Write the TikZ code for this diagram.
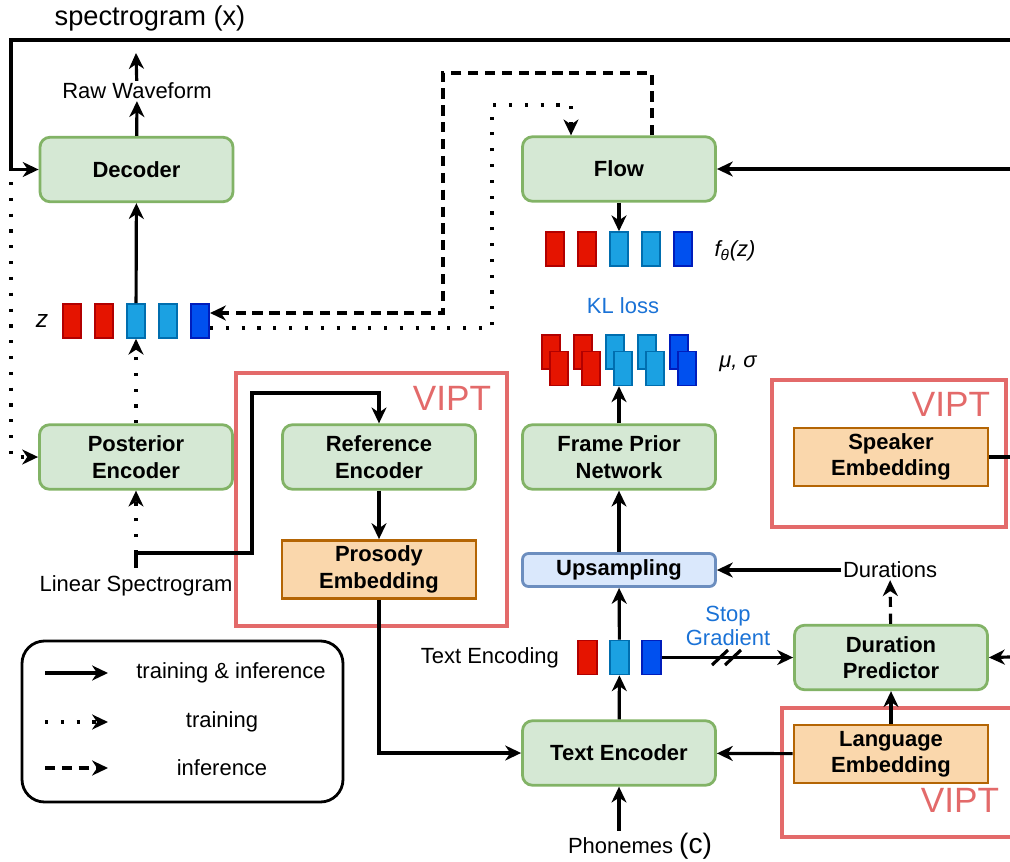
\documentclass[tikz,border=0pt]{standalone}
\usepackage{fontspec}
\setmainfont{Liberation Sans}
\usetikzlibrary{arrows.meta,calc}
\definecolor{boxgreen}{HTML}{82B366}
\definecolor{fillgreen}{HTML}{D5E8D4}
\definecolor{boxorange}{HTML}{B46504}
\definecolor{fillorange}{HTML}{FAD7AC}
\definecolor{boxblue}{HTML}{6C8EBF}
\definecolor{fillblue}{HTML}{DAE8FC}
\definecolor{vecred}{HTML}{E51400}
\definecolor{vecredd}{HTML}{B20000}
\definecolor{veccyan}{HTML}{1BA1E2}
\definecolor{veccyand}{HTML}{006EAF}
\definecolor{vecblue}{HTML}{0050EF}
\definecolor{vecblued}{HTML}{001DBC}
\definecolor{viptred}{HTML}{E36A6A}
\definecolor{txtblue}{HTML}{1A72D6}
\newcommand{\boxfont}{\fontsize{12.5}{15}\selectfont\bfseries}
\newcommand{\labfont}{\fontsize{12.5}{14}\selectfont}
\newcommand{\viptfont}{\fontsize{20}{20}\selectfont}
\tikzset{
  gbox/.style   ={draw=boxgreen,fill=fillgreen,line width=1.6pt,rounded corners=2mm,
                  minimum width=38.6mm,minimum height=12.9mm,align=center,font=\boxfont,inner sep=1pt},
  obox/.style   ={draw=boxorange,fill=fillorange,line width=1.6pt,
                  minimum width=38.8mm,minimum height=11.6mm,align=center,font=\boxfont,inner sep=1pt},
  ubox/.style   ={draw=boxblue,fill=fillblue,line width=1.6pt,rounded corners=1.2mm,
                  minimum width=38.6mm,minimum height=6.6mm,font=\boxfont,inner sep=1pt},
  vcell/.style  ={line width=0.9pt,minimum width=3.7mm,minimum height=6.8mm,inner sep=0pt},
  vred/.style   ={vcell,fill=vecred,draw=vecredd},
  vcyan/.style  ={vcell,fill=veccyan,draw=veccyand},
  vblue/.style  ={vcell,fill=vecblue,draw=vecblued},
  lab/.style    ={font=\labfont,inner sep=1pt},
  bluelab/.style={lab,text=txtblue,align=center},
  viptlab/.style={font=\viptfont,text=viptred,inner sep=0pt},
  vipt/.style   ={draw=viptred,line width=2.3pt},
  fline/.style  ={line width=1.8pt},
  arr/.style    ={fline,-{Stealth[length=9pt,width=8.5pt,inset=2.8pt]}},
  trarr/.style  ={arr,dash pattern=on 1.8pt off 7.2pt},
  infarr/.style ={arr,dash pattern=on 5.8pt off 3.8pt},
  legbox/.style ={draw,line width=1.6pt,rounded corners=4.5mm},
}

\begin{document}
\begin{tikzpicture}[x=0.2mm,y=-0.2mm]
  \useasboundingbox (0,0) rectangle (1010,861);
  % VIPT frames
  \draw[vipt] (236,373) rectangle (507,626);
  \draw[vipt] (772,380) rectangle (1006,527);
  \draw[vipt] (1010,708) -| (782,837) -- (1010,837);
  \node[viptlab] (vipta) at (452,398) {VIPT};
  \node[viptlab] (viptb) at (951,404) {VIPT};
  \node[viptlab] (viptc) at (960,800) {VIPT};
  % blocks
  \node[gbox] (dec)  at (136.5,169.5) {Decoder};
  \node[gbox] (flow) at (619,169)     {Flow};
  \node[gbox] (post) at (136,457)     {Posterior\\Encoder};
  \node[gbox] (ref)  at (379,457)     {Reference\\Encoder};
  \node[obox] (pros) at (379,569.5)   {Prosody\\Embedding};
  \node[gbox] (fpn)  at (619,457)     {Frame Prior\\Network};
  \node[obox] (spk)  at (891,457)     {Speaker\\Embedding};
  \node[ubox] (up)   at (619,570)     {Upsampling};
  \node[gbox] (dur)  at (891,657.5)   {Duration\\Predictor};
  \node[gbox] (tenc) at (619,753)     {Text Encoder};
  \node[obox] (lang) at (891,754)     {Language\\Embedding};
  % vectors
  \foreach \c [count=\i] in {vred,vred,vcyan,vcyan,vblue}{
    \node[\c] (z\i)  at ({40+32*\i},321) {};
    \node[\c] (f\i)  at ({523+32*\i},249) {};
    \node[\c] (mb\i) at ({519+32*\i},352) {};
    \node[\c] (mf\i) at ({527+32*\i},368.5) {};
  }
  \node[vred]  (t1) at (587.5,657.5) {};
  \node[vcyan] (t2) at (619.5,657.5) {};
  \node[vblue] (t3) at (651.5,657.5) {};
  % labels
  \node[lab,font=\fontsize{15.5}{17}\selectfont] (specx) at (150,18) {spectrogram (x)};
  \node[lab] (raw)   at (137,91)  {Raw Waveform};
  \node[lab,font=\fontsize{14}{14}\selectfont\itshape] (zlab) at (42,321) {z};
  \node[lab,font=\labfont\itshape] (flab) at (735,251) {f\textsubscript{θ}(z)};
  \node[bluelab] (kl) at (623,306) {KL loss};
  \node[lab,font=\labfont\itshape] (mslab) at (738,364) {μ, σ};
  \node[lab] (lin)   at (136,586) {Linear Spectrogram};
  \node[lab] (durs)  at (890,570) {Durations};
  \node[bluelab] (stopg) at (728,626) {Stop\\Gradient};
  \node[lab,anchor=east] (tenlab) at (561,658) {Text Encoding};
  \node[lab] (phon)  at (640,846) {Phonemes {\fontsize{16}{16}\selectfont(c)}};
  % free ends
  \coordinate (specR) at (1010,40);
  \coordinate (lrail) at (11,40);
  \coordinate (lrailb) at (11,182);
  \coordinate (rawtop) at (136,53);
  \coordinate (flowR) at (1010,169);
  \coordinate (spkR) at (1010,457);
  \coordinate (durR) at (1010,657);
  \coordinate (dtop) at (443,73);
  \coordinate (dotc) at (492,105);
  \coordinate (linj) at (136,553);
  \coordinate (lcorner) at (252,393);
  % connectors
  \draw[arr] (specR) -- (lrail) |- (dec.west);
  \draw[trarr] (lrailb) |- (post.west);
  \draw[arr] (dec) -- (raw);
  \draw[arr] (raw) -- (rawtop);
  \draw[arr] (z3) -- (dec);
  \draw[trarr] (post) -- (z3);
  \draw[infarr] ($(flow.north)+(33,0)$) |- (dtop) |- ($(z5.east)+(0,-8)$);
  \draw[trarr] ($(z5.east)+(0,7)$) -| (dotc) -| ($(flow.north)+(-48,0)$);
  \draw[arr] (flowR) -- (flow.east);
  \draw[arr] (flow) -- (f3);
  \draw[arr] (fpn) -- (fpn.north |- mf3.south);
  \draw[arr] (up) -- (fpn);
  \draw[arr] (t2) -- (up);
  \draw[arr] (tenc) -- (t2);
  \draw[arr] (t3) -- (dur.west |- t3.east);
  \draw[fline] (712,665) -- (728,650) (725,665) -- (741,650);
  \draw[infarr] (dur) -- (durs);
  \draw[arr] (durs) -- (up.east |- durs.west);
  \draw[arr] (lang) -- (dur);
  \draw[arr] (lang) -- (tenc);
  \draw[arr] (durR) -- (dur.east);
  \draw[fline] (spk.east) -- (spkR);
  \draw[arr] (tenc.south |- phon.north) -- (tenc);
  \draw[fline] (linj) -- ++(0,15);
  \draw[arr] (linj) -| (lcorner) -| (ref.north);
  \draw[trarr] (linj) -- (post);
  \draw[arr] (ref) -- (pros);
  \draw[arr] (pros) |- (tenc.west);
  % legend
  \draw[legbox] (22,641) rectangle (343,802);
  \coordinate (la1) at (45,673);  \coordinate (lb1) at (108,673);
  \coordinate (la2) at (45,722);  \coordinate (lb2) at (108,722);
  \coordinate (la3) at (45,768);  \coordinate (lb3) at (108,768);
  \draw[arr] (la1) -- (lb1);
  \draw[trarr] (la2) -- (lb2);
  \draw[infarr] (la3) -- (lb3);
  \node[lab] (leg1) at (231,673) {training \& inference};
  \node[lab] (leg2) at (222,722) {training};
  \node[lab] (leg3) at (222,768) {inference};
\end{tikzpicture}
\end{document}
